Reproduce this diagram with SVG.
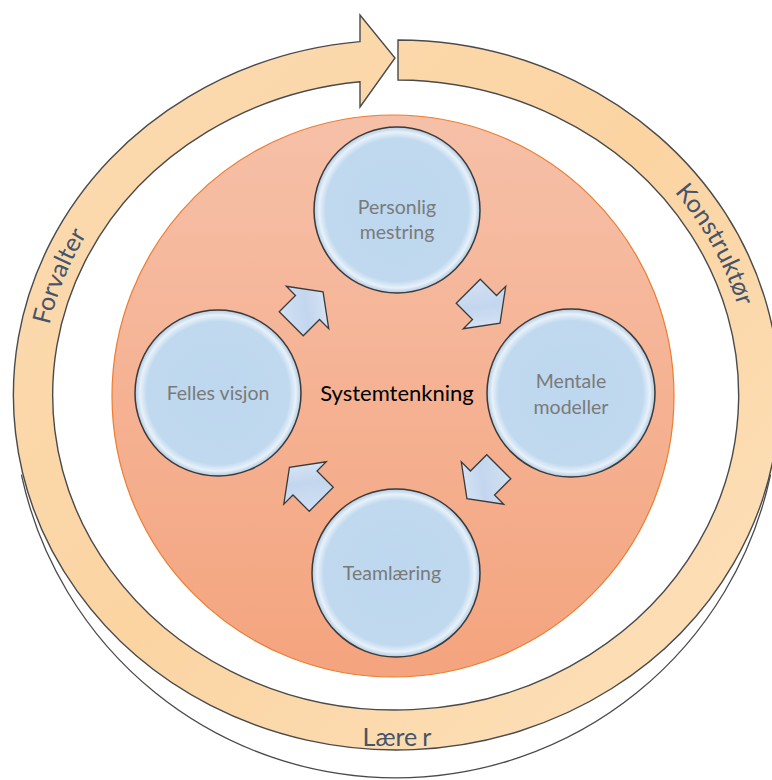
<svg xmlns="http://www.w3.org/2000/svg" width="772" height="780" viewBox="0 0 772 780">
  <style>
    .band { fill: url(#bandGrad); stroke: #4a4a4a; stroke-width: 1.4; }
    .thin { fill: none; stroke: #4a4a4a; stroke-width: 1.3; }
    .node { fill: url(#nodeGrad); stroke: #3a3a3a; stroke-width: 1.5; }
    .ntext { font-family: Lato, "Liberation Sans", sans-serif; font-size: 19.5px; fill: #7a7a7a; text-anchor: middle; }
    .ctext { font-family: Lato, "Liberation Sans", sans-serif; font-size: 22px; fill: #000000; text-anchor: middle; }
    .rtext { font-family: Lato, "Liberation Sans", sans-serif; font-size: 25px; fill: #44546a; text-anchor: middle; }
    .arrow { fill: url(#arrowGrad); stroke: #3a3a3a; stroke-width: 1.3; stroke-linejoin: miter; }
  </style>
  <defs>
    <linearGradient id="bandGrad" x1="0" y1="0" x2="1" y2="1">
      <stop offset="0" stop-color="#fcdcb3"/>
      <stop offset="0.5" stop-color="#fbd4a2"/>
      <stop offset="1" stop-color="#fde2bd"/>
    </linearGradient>
    <linearGradient id="bigGrad" x1="0" y1="0" x2="0" y2="1">
      <stop offset="0" stop-color="#f6c0a8"/>
      <stop offset="1" stop-color="#f4a47e"/>
    </linearGradient>
    <radialGradient id="nodeGrad" cx="0.5" cy="0.5" r="0.5">
      <stop offset="0" stop-color="#bdd7ee"/>
      <stop offset="0.86" stop-color="#c0d9ef"/>
      <stop offset="0.94" stop-color="#e8f1fa"/>
      <stop offset="1" stop-color="#b0c9e0"/>
    </radialGradient>
    <linearGradient id="arrowGrad" x1="0" y1="0" x2="1" y2="1">
      <stop offset="0" stop-color="#d6e4f5"/>
      <stop offset="0.5" stop-color="#c3d6ee"/>
      <stop offset="1" stop-color="#e4eef9"/>
    </linearGradient>
    <path id="pForvalter" d="M 88.6,558.5 A 355 327 0 0 1 274.6,87.7"/>
    <path id="pKonstruktor" d="M 481.9,77.7 A 355 327 0 0 1 720.3,528"/>
    <path id="smallArrow" d="M -23,-17 L 0,-17 L 0,-30 L 22,0 L 0,30 L 0,17 L -23,17 Z"/>
  </defs>

  <g id="cycle-ring">
    <path class="thin" d="M 770.6,474.6 A 383 383 0 0 1 21.4,474.6"/>
    <path class="band" d="M 398,40 A 383 355 0 1 1 360,41.6 L 360,15 L 395,58 L 360,107 L 360,81.7 A 343 315 0 1 0 398,80 Z"/>
    <text class="rtext"><textPath href="#pForvalter" startOffset="50%">Forvalter</textPath></text>
    <text class="rtext"><textPath href="#pKonstruktor" startOffset="50%">Konstruktør</textPath></text>
    <text class="rtext" x="397" y="746">Lære<tspan dx="5">r</tspan></text>
  </g>

  <g id="systemtenkning">
    <circle cx="393" cy="396" r="281" fill="url(#bigGrad)" stroke="#ed7d31" stroke-width="1.2"/>
    <text class="ctext" x="397" y="401">Systemtenkning</text>
  </g>

  <g id="connectors">
    <use href="#smallArrow" class="arrow" transform="translate(307.5,307.5) rotate(-45)"/>
    <use href="#smallArrow" class="arrow" transform="translate(484.5,307.5) rotate(45)"/>
    <use href="#smallArrow" class="arrow" transform="translate(482.5,483) rotate(135)"/>
    <use href="#smallArrow" class="arrow" transform="translate(305,483) rotate(-135)"/>
  </g>

  <g id="personlig-mestring">
    <circle class="node" cx="397" cy="210" r="83"/>
    <text class="ntext" x="397" y="214">Personlig</text>
    <text class="ntext" x="397" y="239">mestring</text>
  </g>

  <g id="mentale-modeller">
    <circle class="node" cx="571" cy="393" r="84"/>
    <text class="ntext" x="571" y="388">Mentale</text>
    <text class="ntext" x="571" y="414">modeller</text>
  </g>

  <g id="teamlaering">
    <circle class="node" cx="396" cy="573" r="84"/>
    <text class="ntext" x="392" y="580">Teamlæring</text>
  </g>

  <g id="felles-visjon">
    <circle class="node" cx="218" cy="393" r="83"/>
    <text class="ntext" x="218" y="400">Felles visjon</text>
  </g>
</svg>
